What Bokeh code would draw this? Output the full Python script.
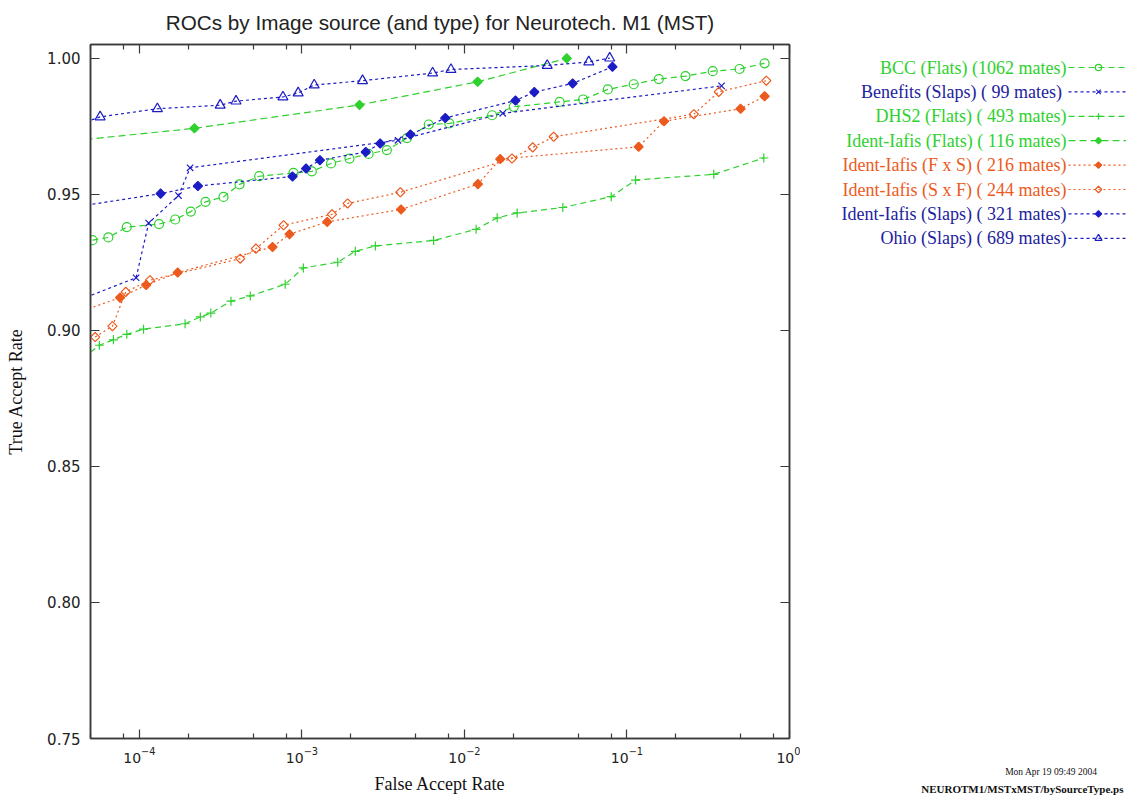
import math
from bokeh.plotting import figure
from bokeh.layouts import row
from bokeh.models import (Range1d, FixedTicker, LogAxis, LinearAxis, CustomJSTickFormatter,
                          PrintfTickFormatter)
from bokeh.core.properties import value
from bokeh.embed import file_html
from bokeh.resources import INLINE

# ---------------- data ----------------
bcc_far = [5.14e-5, 6.44e-5, 8.36e-5, 1.32e-4, 1.66e-4, 2.07e-4, 2.55e-4, 3.29e-4, 4.13e-4, 5.46e-4,
           8.87e-4, 1.15e-3, 1.51e-3, 1.96e-3, 2.57e-3, 3.33e-3, 4.43e-3, 6.03e-3, 8.07e-3, 0.0148,
           0.0201, 0.0385, 0.0537, 0.0762, 0.110, 0.157, 0.229, 0.337, 0.493, 0.703]
bcc_tar = [0.9331, 0.9341, 0.9379, 0.9390, 0.9407, 0.9436, 0.9472, 0.9490, 0.9536, 0.9566,
           0.9578, 0.9584, 0.9613, 0.9631, 0.9648, 0.9662, 0.9706, 0.9756, 0.9760, 0.9790,
           0.9821, 0.9839, 0.9848, 0.9885, 0.9904, 0.9923, 0.9934, 0.9952, 0.9960, 0.9981]

benefits_far = [4.0e-5, 9.54e-5, 1.14e-4, 1.74e-4, 2.05e-4, 3.90e-3, 0.0172, 0.382]
benefits_tar = [0.9105, 0.9193, 0.9394, 0.9495, 0.9597, 0.9698, 0.9797, 0.9898]

dhs2_far = [4.0e-5, 5.67e-5, 6.92e-5, 8.36e-5, 1.06e-4, 1.91e-4, 2.37e-4, 2.75e-4, 3.66e-4, 4.81e-4,
            7.89e-4, 1.02e-3, 1.66e-3, 2.13e-3, 2.83e-3, 6.46e-3, 0.0118, 0.0159, 0.0211, 0.0403,
            0.0800, 0.113, 0.342, 0.695]
dhs2_tar = [0.8874, 0.8945, 0.8965, 0.8985, 0.9004, 0.9024, 0.9049, 0.9063, 0.9107, 0.9126,
            0.9169, 0.9229, 0.9250, 0.9290, 0.9310, 0.9330, 0.9371, 0.9413, 0.9431, 0.9451,
            0.9491, 0.9552, 0.9573, 0.9633]

iflats_far = [4.0e-5, 2.18e-4, 2.26e-3, 0.01205, 0.0426]
iflats_tar = [0.9697, 0.9742, 0.9828, 0.9913, 0.9999]

fxs_far = [4.0e-5, 7.60e-5, 1.10e-4, 1.72e-4, 6.59e-4, 8.39e-4, 1.43e-3, 4.07e-3, 0.0121, 0.0166,
           0.118, 0.169, 0.500, 0.703]
fxs_tar = [0.9061, 0.9120, 0.9166, 0.9212, 0.9306, 0.9353, 0.9398, 0.9444, 0.9537, 0.9629,
           0.9674, 0.9768, 0.9814, 0.9860]

sxf_far = [5.34e-5, 6.82e-5, 8.24e-5, 1.16e-4, 4.17e-4, 5.21e-4, 7.71e-4, 1.53e-3, 1.91e-3, 4.03e-3,
           0.0196, 0.0263, 0.0354, 0.258, 0.367, 0.720]
sxf_tar = [0.8975, 0.9015, 0.9141, 0.9184, 0.9263, 0.9300, 0.9386, 0.9426, 0.9466, 0.9507,
           0.9631, 0.9672, 0.9711, 0.9794, 0.9876, 0.9917]

islaps_far = [4.0e-5, 1.35e-4, 2.29e-4, 8.75e-4, 1.06e-3, 1.29e-3, 2.47e-3, 3.03e-3, 4.65e-3, 7.62e-3,
              0.0206, 0.0269, 0.0463, 0.0814]
islaps_tar = [0.9453, 0.9502, 0.9530, 0.9565, 0.9594, 0.9625, 0.9655, 0.9686, 0.9719, 0.9780,
              0.9844, 0.9875, 0.9907, 0.9968]

ohio_far = [4.0e-5, 5.73e-5, 1.29e-4, 3.14e-4, 3.93e-4, 7.64e-4, 9.48e-4, 1.19e-3, 2.36e-3, 6.37e-3,
            8.26e-3, 0.0323, 0.0582, 0.0783]
ohio_tar = [0.9751, 0.9784, 0.9814, 0.9827, 0.9842, 0.9857, 0.9872, 0.9901, 0.9917, 0.9945,
            0.9958, 0.9973, 0.9986, 1.0000]

series_names = ["BCC (Flats) (1062 mates)", "Benefits (Slaps) (  99 mates)", "DHS2 (Flats) ( 493 mates)",
                "Ident-Iafis (Flats) ( 116 mates)", "Ident-Iafis (F x S) ( 216 mates)",
                "Ident-Iafis (S x F) ( 244 mates)", "Ident-Iafis (Slaps) ( 321 mates)",
                "Ohio (Slaps) ( 689 mates)"]

x_ticks = [1e-4, 1e-3, 1e-2, 1e-1, 1.0]
y_ticks = [0.75, 0.80, 0.85, 0.90, 0.95, 1.00]

title_text = "ROCs by Image source (and type) for Neurotech. M1 (MST)"
x_label = "False Accept Rate"
y_label = "True Accept Rate"
footer_texts = ["Mon Apr 19 09:49 2004", "NEUROTM1/MSTxMST/bySourceType.ps"]

# ---------------- styles ----------------
GREEN = "#2ed12e"
BLUE = "#1c1cc4"
ORANGE = "#ec5a1e"
AXIS = "#3a3a3a"

styles = [
    dict(color=GREEN, dash="6 4", marker="circle", size=9, filled=False, angle=0.0),
    dict(color=BLUE, dash="3 3", marker="x", size=9, filled=False, angle=0.0),
    dict(color=GREEN, dash="6 4", marker="cross", size=9, filled=False, angle=0.0),
    dict(color=GREEN, dash="7 4", marker="square", size=6.5, filled=True, angle=math.pi / 4),
    dict(color=ORANGE, dash="2 3", marker="square", size=6.5, filled=True, angle=math.pi / 4),
    dict(color=ORANGE, dash="2 3", marker="square", size=6.5, filled=False, angle=math.pi / 4),
    dict(color=BLUE, dash="3 3", marker="square", size=6.5, filled=True, angle=math.pi / 4),
    dict(color=BLUE, dash="3 3", marker="triangle", size=10, filled=False, angle=0.0),
]
legend_text_colors = [GREEN, "#22229e", GREEN, GREEN, ORANGE, ORANGE, "#22229e", "#22229e"]
data = [(bcc_far, bcc_tar), (benefits_far, benefits_tar), (dhs2_far, dhs2_tar), (iflats_far, iflats_tar),
        (fxs_far, fxs_tar), (sxf_far, sxf_tar), (islaps_far, islaps_tar), (ohio_far, ohio_tar)]

# ---------------- layout (page px) ----------------
PAGE_W, PAGE_H = 1126, 796
FRAME_LEFT, FRAME_TOP, FRAME_W, FRAME_H = 90, 44, 699, 694
MAIN_W = 800

p = figure(x_axis_type="log", x_range=Range1d(5e-5, 1.0), y_range=Range1d(0.75, 1.005),
           frame_width=FRAME_W, frame_height=FRAME_H,
           min_border_left=FRAME_LEFT, min_border_top=FRAME_TOP,
           min_border_right=MAIN_W - FRAME_LEFT - FRAME_W,
           min_border_bottom=PAGE_H - FRAME_TOP - FRAME_H,
           output_backend="svg", toolbar_location=None)
p.xgrid.visible = False
p.ygrid.visible = False
p.outline_line_color = AXIS
p.outline_line_width = 1.5
p.background_fill_color = "white"
p.border_fill_color = "white"

p.title.text = title_text
p.title.align = "center"
p.title.vertical_align = "top"
p.title.text_font = "Liberation Sans"
p.title.text_font_size = "20.7px"
p.title.text_font_style = "normal"
p.title.text_color = "#222222"
p.title.standoff = 18

x_minor = [m * 10.0 ** e for e in range(-5, 0) for m in (2, 5, 8) if 5e-5 <= m * 10.0 ** e <= 1.0]

xa = p.xaxis[0]
xa.ticker = FixedTicker(ticks=x_ticks, minor_ticks=x_minor)
ya = p.yaxis[0]
ya.ticker = FixedTicker(ticks=y_ticks)
ya.formatter = PrintfTickFormatter(format="%.2f")

top = LogAxis(ticker=FixedTicker(ticks=x_ticks, minor_ticks=x_minor),
              formatter=CustomJSTickFormatter(code="return ''"))
right = LinearAxis(ticker=FixedTicker(ticks=y_ticks), formatter=CustomJSTickFormatter(code="return ''"))
p.add_layout(top, "above")
p.add_layout(right, "right")

for ax in [xa, top]:
    ax.major_tick_in = 9
    ax.major_tick_out = 0
    ax.minor_tick_in = 5
    ax.minor_tick_out = 0
    ax.minor_tick_line_color = AXIS
for ax in [ya, right]:
    ax.major_tick_in = 9
    ax.major_tick_out = 0
    ax.minor_tick_line_color = None
for ax in [xa, ya, top, right]:
    ax.axis_line_color = AXIS
    ax.axis_line_width = 1.5
    ax.major_tick_line_color = AXIS
    ax.major_tick_line_width = 1.2
    ax.minor_tick_line_width = 1.2
    ax.major_label_text_color = "#222222"
    ax.major_label_text_font = "DejaVu Sans"
xa.major_label_text_font_size = "14px"
xa.major_label_standoff = 8
ya.major_label_text_font_size = "15px"
ya.major_label_standoff = 10
top.major_label_standoff = 0
right.major_label_standoff = 0

xa.axis_label = x_label
xa.axis_label_text_font = "Liberation Serif"
xa.axis_label_text_font_size = "18px"
xa.axis_label_text_font_style = "normal"
xa.axis_label_text_color = "#111111"
xa.axis_label_standoff = 8
ya.axis_label = y_label
ya.axis_label_text_font = "Liberation Serif"
ya.axis_label_text_font_size = "18px"
ya.axis_label_text_font_style = "normal"
ya.axis_label_text_color = "#111111"
ya.axis_label_standoff = 18

# ---------------- legend / footer panel (pixel coordinates of the page) ----------------
q = figure(x_range=Range1d(MAIN_W, PAGE_W), y_range=Range1d(PAGE_H, 0),
           width=PAGE_W - MAIN_W, height=PAGE_H, min_border=0,
           output_backend="svg", toolbar_location=None)
q.axis.visible = False
q.xgrid.visible = False
q.ygrid.visible = False
q.outline_line_color = None
q.background_fill_color = "white"
q.border_fill_color = "white"
for fig in (p, q):
    try:
        fig.frame_align = False
    except Exception:
        pass

LEG_TEXT_RIGHT, LEG_LINE_L, LEG_LINE_R, LEG_MARK_X = 1066, 1068, 1126, 1098
LEG_Y0, LEG_DY = 67, 24.4

# ---------------- series ----------------
for i, ((fx, ty), st, name) in enumerate(zip(data, styles, series_names)):
    fill = st["color"] if st["filled"] else None
    p.line(fx, ty, line_color=st["color"], line_width=1.2, line_dash=st["dash"])
    p.scatter(fx, ty, marker=st["marker"], size=st["size"], angle=st["angle"],
              line_color=st["color"], line_width=1.2, fill_color=fill)
    yc = LEG_Y0 + LEG_DY * i
    q.text(x=[LEG_TEXT_RIGHT], y=[yc], text=[name], text_align="right", text_baseline="middle",
           text_font=value("Liberation Serif"), text_font_size="18px", text_color=legend_text_colors[i])
    q.line(x=[LEG_LINE_L, LEG_LINE_R], y=[yc, yc], line_color=st["color"], line_width=1.2,
           line_dash=st["dash"])
    q.scatter(x=[LEG_MARK_X], y=[yc], marker=st["marker"], size=st["size"] * 0.7, angle=st["angle"],
              line_color=st["color"], line_width=1.2, fill_color=fill)

q.text(x=[1097], y=[771], text=[footer_texts[0]], text_align="right", text_baseline="middle",
       text_font=value("Liberation Serif"), text_font_size="9.5px", text_color="#111111")
q.text(x=[1123], y=[788], text=[footer_texts[1]], text_align="right", text_baseline="middle",
       text_font=value("Liberation Serif"), text_font_size="11px", text_font_style="bold",
       text_color="#111111")

layout = row(p, q)
open("out.html", "w").write(file_html(layout, INLINE))
